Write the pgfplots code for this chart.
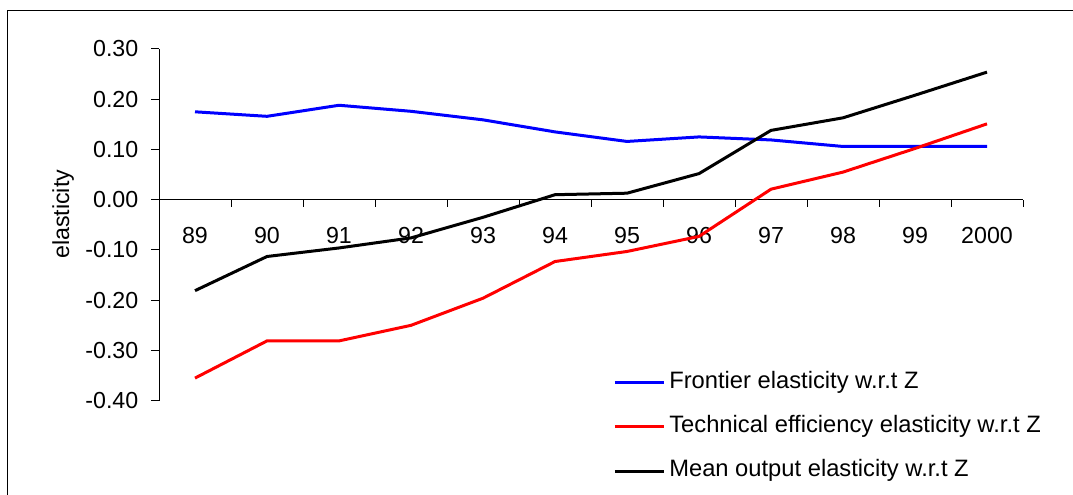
\documentclass[border=0pt]{standalone}
\usepackage{fontspec}
\setmainfont{Liberation Sans}
\usepackage{pgfplots}
\pgfplotsset{compat=1.18}
\begin{document}
\begin{tikzpicture}[font=\fontsize{17.4}{20.8}\selectfont]
\useasboundingbox (-119.25pt,-70.725pt) rectangle (685.5pt,300.525pt);
\draw[line width=0.75pt] (-113.25pt,-70.725pt) -- (-113.25pt,292.275pt) -- (685.5pt,292.275pt);
\begin{axis}[
  at={(0pt,0pt)}, anchor=south west,
  scale only axis, width=648pt, height=263.775pt,
  xmin=-0.5, xmax=11.5, ymin=-0.4, ymax=0.3,
  axis y line=left, axis x line=middle,
  axis line style={-, line width=0.75pt, black},
  tick align=outside,
  major tick length=6pt, minor tick length=5.25pt,
  every tick/.style={black, line width=0.75pt},
  xtick={0,...,11},
  xticklabels={89,90,91,92,93,94,95,96,97,98,99,2000},
  major x tick style={draw=none},
  minor xtick={-0.5,0.5,...,11.5},
  ytick={-0.4,-0.3,-0.2,-0.1,0,0.1,0.2,0.3},
  yticklabel style={xshift=-6pt, /pgf/number format/.cd, fixed, fixed zerofill, precision=2},
  /pgf/number format/assume math mode=true,
  xticklabel style={yshift=-11.5pt},
  ylabel={elasticity},
  ylabel style={at={(rel axis cs:-0.111,0.53)}, anchor=center},
  legend style={draw=none, fill=none, inner sep=0pt, at={(rel axis cs:0.5255,0.085)}, anchor=north west,
    row sep=16.5pt, column sep=3pt, font=\fontsize{17.8}{21.3}\selectfont,
    nodes={inner sep=0pt, text height=12.8pt, text depth=4pt}},
  legend cell align=left,
  legend image code/.code={\draw[#1] (0pt,0pt) -- (36.75pt,0pt);},
]
\addplot[blue, line width=2.25pt] coordinates {(0,0.175) (1,0.166) (2,0.188) (3,0.176) (4,0.159) (5,0.135) (6,0.116) (7,0.125) (8,0.119) (9,0.106) (10,0.106) (11,0.106)};
\addlegendentry{Frontier elasticity w.r.t Z}
\addplot[red, line width=2.25pt] coordinates {(0,-0.355) (1,-0.281) (2,-0.281) (3,-0.250) (4,-0.196) (5,-0.123) (6,-0.103) (7,-0.073) (8,0.021) (9,0.055) (10,0.102) (11,0.151)};
\addlegendentry{Technical efficiency elasticity w.r.t Z}
\addplot[black, line width=2.25pt] coordinates {(0,-0.181) (1,-0.113) (2,-0.096) (3,-0.076) (4,-0.035) (5,0.010) (6,0.013) (7,0.052) (8,0.138) (9,0.163) (10,0.208) (11,0.254)};
\addlegendentry{Mean output elasticity w.r.t Z}
\end{axis}
\end{tikzpicture}
\end{document}
